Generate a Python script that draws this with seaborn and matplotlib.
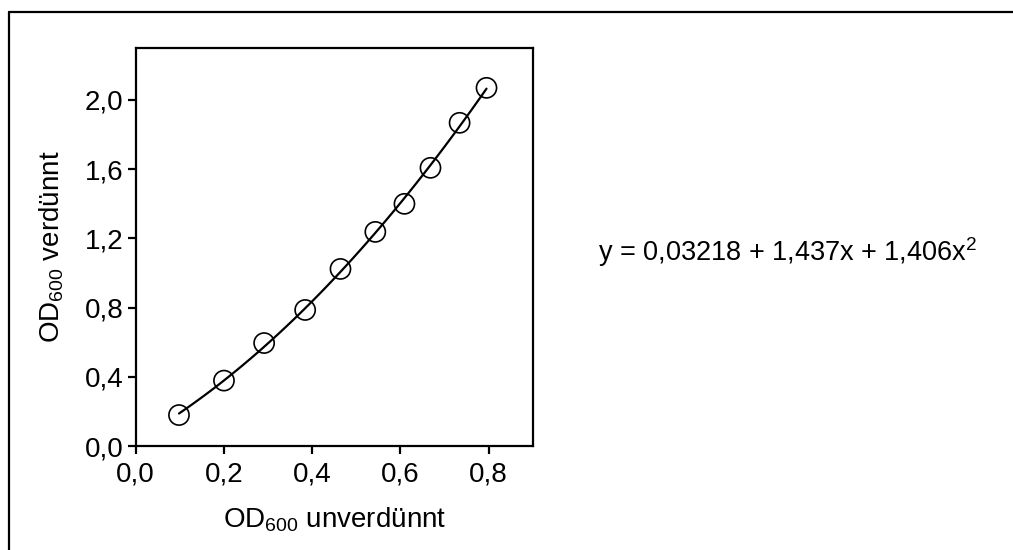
"""
OD600 Eichkurve: verdünnt gegen unverdünnt, quadratische Anpassung
"""
import matplotlib
matplotlib.use("Agg")
import matplotlib.pyplot as plt
from matplotlib.lines import Line2D
from matplotlib.ticker import FuncFormatter
import numpy as np
import seaborn as sns

# ── Daten ──
od_unverduennt = [0.098, 0.200, 0.291, 0.384, 0.464, 0.543, 0.609, 0.668, 0.734, 0.795]
od_verduennt = [0.179, 0.378, 0.595, 0.786, 1.023, 1.237, 1.399, 1.607, 1.867, 2.069]
x_ticks = [0.0, 0.2, 0.4, 0.6, 0.8]
y_ticks = [0.0, 0.4, 0.8, 1.2, 1.6, 2.0]
equation = "y = 0,03218 + 1,437x + 1,406x$^2$"

sns.set_theme(style="ticks")
plt.rcParams["font.family"] = ["Liberation Sans", "DejaVu Sans"]
plt.rcParams["mathtext.fontset"] = "custom"
plt.rcParams["mathtext.rm"] = "Liberation Sans"
plt.rcParams["mathtext.it"] = "Liberation Sans"
plt.rcParams["mathtext.default"] = "regular"

fs = 20

fig = plt.figure(figsize=(10.13, 5.5), dpi=100)
ax = fig.add_axes([0.134, 0.189, 0.392, 0.724])

sns.regplot(
    x=np.array(od_unverduennt), y=np.array(od_verduennt), ax=ax,
    order=2, ci=None, color="black",
    scatter_kws=dict(facecolors="none", s=210, linewidths=1.2, alpha=1, zorder=3),
    line_kws=dict(linewidth=1.6),
)

ax.set_xlim(0, 0.9)
ax.set_ylim(0, 2.3)
ax.set_xticks(x_ticks)
ax.set_yticks(y_ticks)
komma = FuncFormatter(lambda v, _: f"{v:.1f}".replace(".", ","))
ax.xaxis.set_major_formatter(komma)
ax.yaxis.set_major_formatter(komma)
ax.tick_params(direction="out", length=6, width=1.6, labelsize=fs, colors="black", pad=3)
ax.tick_params(axis="x", pad=5)

for side in ["left", "right", "top", "bottom"]:
    ax.spines[side].set_visible(True)
    ax.spines[side].set_linewidth(1.6)
    ax.spines[side].set_color("black")

ax.set_xlabel("OD$_{600}$ unverdünnt", fontsize=fs, color="black", labelpad=13)
ax.set_ylabel("OD$_{600}$ verdünnt", fontsize=fs, color="black", labelpad=13)

# Gleichung rechts neben dem Diagramm
fig.text(0.590, 0.542, equation, fontsize=19.5, color="black", va="center", ha="left")

# Rahmen oben und links
fig.add_artist(Line2D([9 / 1013, 9 / 1013], [0, 1 - 12 / 550], color="black", linewidth=1.6,
                      transform=fig.transFigure))
fig.add_artist(Line2D([9 / 1013, 1], [1 - 12 / 550, 1 - 12 / 550], color="black", linewidth=1.6,
                      transform=fig.transFigure))

fig.savefig("out.png", dpi=100, facecolor="white")
plt.close(fig)
